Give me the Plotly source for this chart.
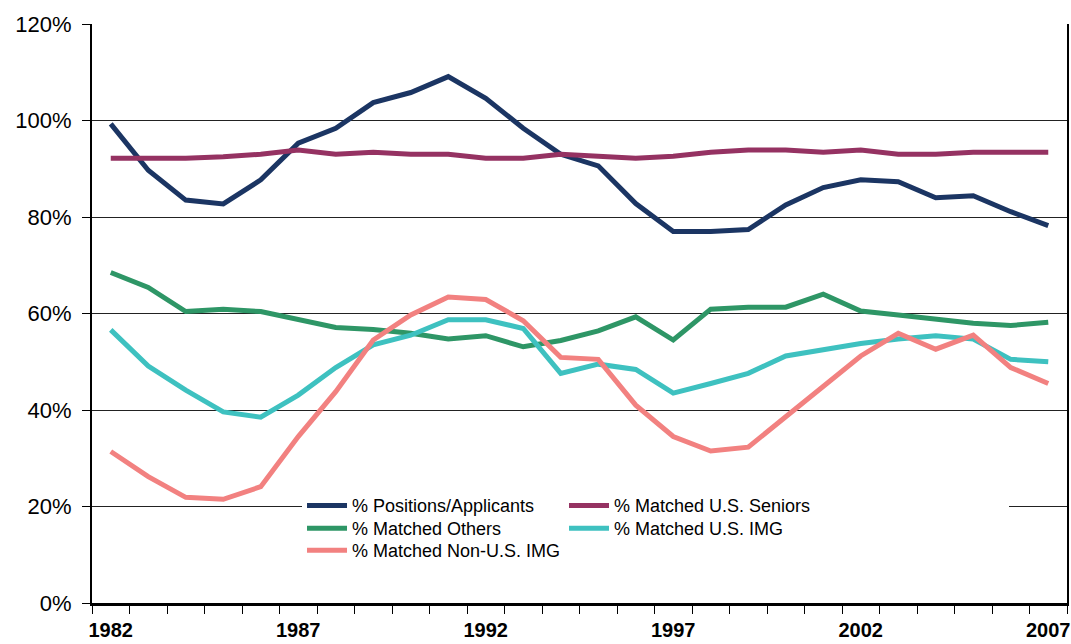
import plotly.graph_objects as go

years = list(range(1982, 2008))

positions_applicants = [99.3, 89.7, 83.5, 82.7, 87.7, 95.3, 98.4, 103.7, 105.8, 109.1, 104.6, 98.4, 93.0,
                        90.6, 82.8, 77.0, 77.0, 77.4, 82.5, 86.1, 87.7, 87.3, 84.0, 84.4, 81.1, 78.2]
matched_us_seniors = [92.2, 92.2, 92.2, 92.5, 93.0, 93.9, 93.0, 93.4, 93.0, 93.0, 92.2, 92.2, 93.0,
                      92.6, 92.2, 92.6, 93.4, 93.9, 93.9, 93.4, 93.9, 93.0, 93.0, 93.4, 93.4, 93.4]
matched_others = [68.5, 65.4, 60.4, 60.9, 60.4, 58.7, 57.1, 56.7, 55.9, 54.7, 55.4, 53.1, 54.4,
                  56.4, 59.3, 54.5, 60.9, 61.3, 61.3, 64.0, 60.5, 59.7, 58.8, 58.0, 57.5, 58.2]
matched_us_img = [56.6, 49.1, 44.1, 39.6, 38.5, 43.1, 48.8, 53.5, 55.5, 58.7, 58.7, 56.9, 47.6,
                  49.5, 48.4, 43.5, 45.5, 47.6, 51.2, 52.6, 53.8, 54.7, 55.4, 54.7, 50.5, 50.0]
matched_non_us_img = [31.4, 26.2, 21.9, 21.5, 24.1, 34.5, 43.8, 54.5, 59.7, 63.4, 62.9, 58.5, 50.9,
                      50.5, 41.0, 34.5, 31.5, 32.3, 38.6, 44.8, 51.2, 55.9, 52.6, 55.5, 48.8, 45.5]

series_names = ["% Positions/Applicants", "% Matched U.S. Seniors", "% Matched Others",
                "% Matched U.S. IMG", "% Matched Non-U.S. IMG"]
series_values = [positions_applicants, matched_us_seniors, matched_others,
                 matched_us_img, matched_non_us_img]
series_colors = ["#1B3563", "#953262", "#2E9666", "#3EC1C0", "#F28180"]
# legend row of each series
series_legend = ["legend", "legend", "legend2", "legend2", "legend3"]

x_tick_years = [1982, 1987, 1992, 1997, 2002, 2007]
y_tick_values = [0, 20, 40, 60, 80, 100, 120]

fig = go.Figure()
for name, vals, col, lg in zip(series_names, series_values, series_colors, series_legend):
    extra = {}
    if name == "% Matched U.S. Seniors":
        extra["legendwidth"] = 390  # white legend box reaches further right, as in the original
    fig.add_trace(go.Scatter(
        x=years, y=vals, mode="lines", name=name,
        line=dict(color=col, width=5),
        legend=lg, **extra,
    ))

legend_font = dict(size=18, family="Liberation Sans, Arial, sans-serif", color="black")
legend_common = dict(orientation="h", x=0.2154, xanchor="left", yanchor="top",
                     font=legend_font, itemwidth=40, entrywidth=207, traceorder="normal")

fig.update_layout(
    width=1071, height=644,
    margin=dict(l=92, r=4, t=24, b=41, autoexpand=False),
    paper_bgcolor="white", plot_bgcolor="white",
    font=dict(family="Liberation Sans, Arial, sans-serif", color="black"),
    showlegend=True,
    legend=dict(y=0.20, bgcolor="white", **legend_common),
    legend2=dict(y=0.1606, bgcolor="rgba(0,0,0,0)", **legend_common),
    legend3=dict(y=0.1226, bgcolor="rgba(0,0,0,0)", **legend_common),
)

fig.update_xaxes(
    range=[1981.5, 2007.5],
    tickvals=x_tick_years,
    ticktext=[f"<b>{v}</b>" for v in x_tick_years],
    ticks="",
    ticklabelstandoff=7,
    ticklabeloverflow="allow",
    automargin=False,
    tickfont=dict(size=20, family="Liberation Sans, Arial, sans-serif", color="black"),
    showgrid=False, zeroline=False,
    showline=True, linecolor="black", linewidth=3,
    minor=dict(ticks="outside", tick0=1981.5, dtick=1, ticklen=8, tickcolor="black", tickwidth=1, showgrid=False),
)

fig.update_yaxes(
    range=[0, 120],
    tickvals=y_tick_values,
    ticktext=[f"{v}%" for v in y_tick_values],
    ticks="outside", ticklen=8, tickcolor="black", tickwidth=1,
    ticklabelstandoff=6,
    automargin=False,
    tickfont=dict(size=22, color="black"),
    showgrid=True, gridcolor="#222222", gridwidth=1,
    zeroline=False,
    showline=True, linecolor="black", linewidth=2, mirror=True,
)

fig.write_html(
    "out.html",
    config={"displayModeBar": False},
    post_script="document.body.style.margin='0';document.body.style.overflow='hidden';",
)
